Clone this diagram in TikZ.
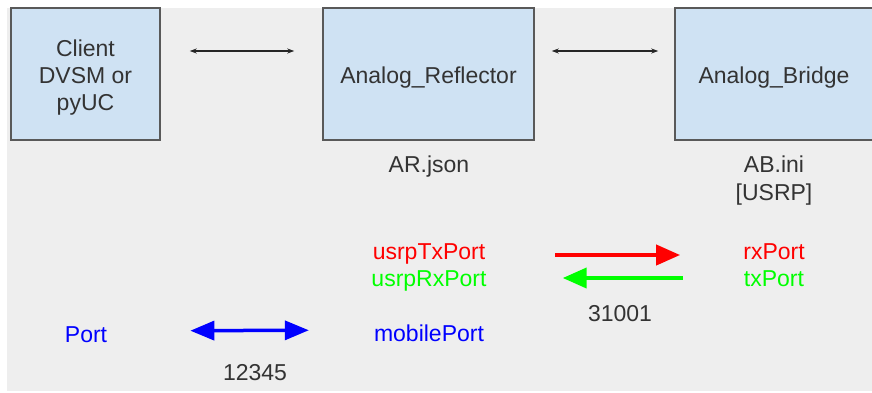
\documentclass[tikz,border=0pt]{standalone}
\usepackage{fontspec}
\setmainfont{Liberation Sans}
\usetikzlibrary{arrows.meta}

\definecolor{boxblue}{HTML}{CFE2F3}
\definecolor{boxline}{HTML}{595959}
\definecolor{paper}{HTML}{EEEEEE}
\definecolor{ink}{HTML}{333333}
\definecolor{txred}{HTML}{FF0000}
\definecolor{rxgreen}{HTML}{00FF00}
\definecolor{mobblue}{HTML}{0000FF}

\newcommand{\boxstrut}{\rule{0pt}{23.5pt}}

\tikzset{
    block/.style={draw=boxline, line width=1.5pt, fill=boxblue, minimum height=132pt,
        text=ink, align=center, font=\fontsize{23}{27}\selectfont},
    portname/.style={inner sep=0pt, text height=16.5pt, text depth=4.5pt,
        font=\fontsize{23}{27}\selectfont},
    note/.style={inner sep=0pt, text=ink, align=center, font=\fontsize{23}{28}\selectfont},
    link/.style={{Stealth[length=7pt,width=5pt]}-{Stealth[length=7pt,width=5pt]}, line width=1.3pt, draw=black!85},
    fat/.style={line width=4pt, -{Triangle[length=24pt,width=20pt]}},
}

\begin{document}
\begin{tikzpicture}[x=1pt,y=-1pt]
    \useasboundingbox (0,0) rectangle (872,392);
    \fill[white] (0,0) rectangle (872,392);
    \fill[paper] (7,8) rectangle (872,391);

    \node[block, minimum width=149pt] (Client) at (85.5,74) {\boxstrut Client\\DVSM or\\pyUC};
    \node[block, minimum width=211pt] (Reflector) at (428.5,74) {\boxstrut Analog\_Reflector};
    \node[block, minimum width=198pt] (Bridge) at (774,74) {\boxstrut Analog\_Bridge};

    \node[note] (ARjson) at (429,167) {AR.json};
    \node[note] (ABini) at (774,181) {AB.ini\\{[USRP]}};

    \node[portname, text=txred] (UsrpTx) at (429,253) {usrpTxPort};
    \node[portname, text=rxgreen] (UsrpRx) at (429,280) {usrpRxPort};
    \node[portname, text=txred] (RxPort) at (774,253) {rxPort};
    \node[portname, text=rxgreen] (TxPort) at (774,280) {txPort};
    \node[portname, text=mobblue] (Mobile) at (429,335) {mobilePort};
    \node[portname, text=mobblue] (Port) at (86,336) {Port};

    \node[note] (PortA) at (620,314) {31001};
    \node[note] (PortB) at (255,373) {12345};

    \draw[link, shorten <=29pt, shorten >=28pt] ([yshift=23pt]Client.east) -- ([yshift=23pt]Reflector.west);
    \draw[link, shorten <=17pt, shorten >=16pt] ([yshift=23pt]Reflector.east) -- ([yshift=23pt]Bridge.west);

    \draw[fat, draw=txred, fill=txred, shorten <=70pt, shorten >=63pt] ([yshift=-2pt]UsrpTx.east) -- ([yshift=-2pt]RxPort.west);
    \draw[fat, draw=rxgreen, fill=rxgreen, shorten <=61pt, shorten >=76pt] ([yshift=2pt]TxPort.west) -- ([yshift=2pt]UsrpRx.east);
    \draw[fat, line width=3.5pt, {Triangle[length=24pt,width=19pt]}-{Triangle[length=24pt,width=19pt]}, draw=mobblue, fill=mobblue,
        shorten <=83pt, shorten >=65pt] ([yshift=5pt]Port.east) -- ([yshift=5pt]Mobile.west);
\end{tikzpicture}
\end{document}
